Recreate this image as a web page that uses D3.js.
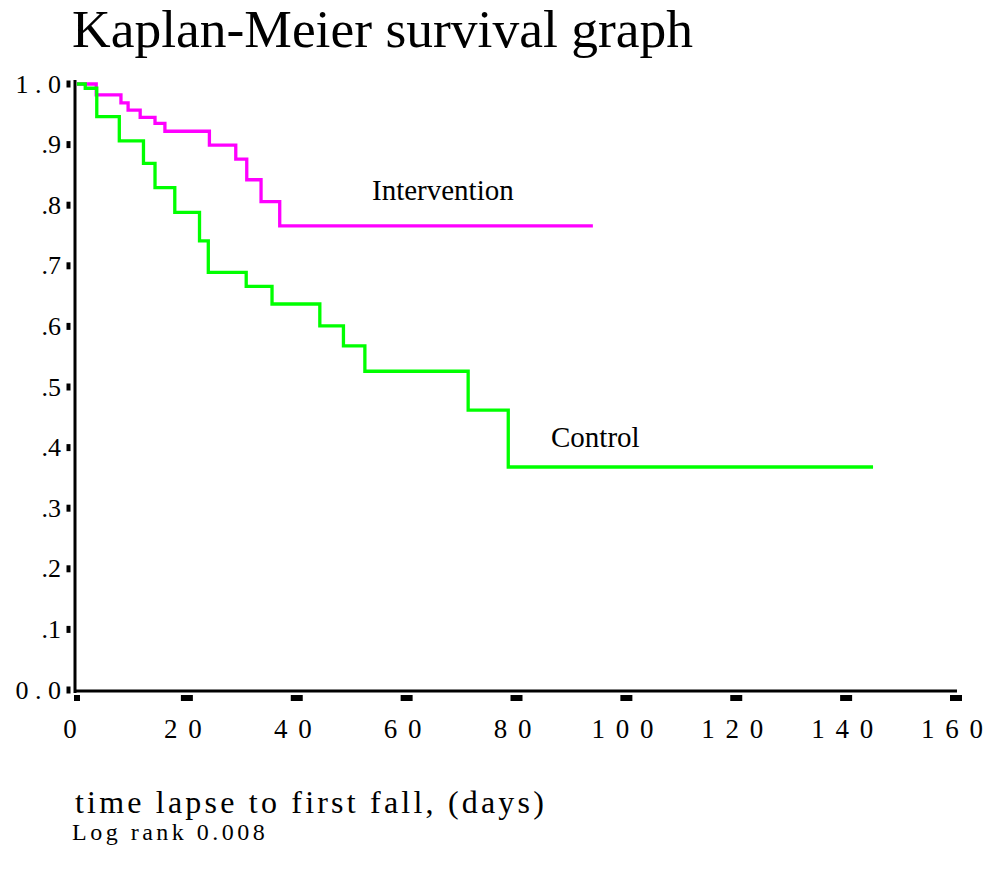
<!DOCTYPE html>
<html>
<head>
<meta charset="utf-8">
<script src="https://cdn.jsdelivr.net/npm/d3@7"></script>
<style>
  body { margin: 0; background: #fff; }
  svg { display: block; font-family: "Liberation Serif", "Times New Roman", serif; }
</style>
</head>
<body>
<div id="chart"></div>
<script>
// step points: [day, survival]
const interventionSteps = [
  [0, 1.0], [3.5, 0.982], [8, 0.969], [9.3, 0.957], [11.5, 0.945],
  [14.2, 0.935], [16, 0.922], [24.1, 0.899], [28.9, 0.876], [30.9, 0.842],
  [33.5, 0.806], [36.9, 0.766], [93.9, 0.766]
];
const controlSteps = [
  [0, 1.0], [1.5, 0.993], [3.6, 0.946], [7.7, 0.906], [12.1, 0.869],
  [14.2, 0.829], [17.8, 0.788], [22.3, 0.741], [23.9, 0.689], [30.8, 0.666],
  [35.5, 0.637], [44.2, 0.601], [48.5, 0.568], [52.4, 0.526], [71.2, 0.462],
  [78.5, 0.368], [144.9, 0.368]
];
const xTicks = [0, 20, 40, 60, 80, 100, 120, 140, 160];
const xTickLabels = ["0", "2 0", "4 0", "6 0", "8 0", "1 0 0", "1 2 0", "1 4 0", "1 6 0"];
const yTicks = [0, 0.1, 0.2, 0.3, 0.4, 0.5, 0.6, 0.7, 0.8, 0.9, 1.0];
const yTickLabels = ["0 . 0", ".1", ".2", ".3", ".4", ".5", ".6", ".7", ".8", ".9", "1 . 0"];

const w = 996, h = 875;
const svg = d3.select("#chart").append("svg").attr("width", w).attr("height", h);

const x = d3.scaleLinear().domain([0, 160]).range([77, 956]);
const y = d3.scaleLinear().domain([0, 1]).range([690, 84]);

svg.append("text")
  .attr("x", 72).attr("y", 47)
  .attr("font-size", 53.5)
  .text("Kaplan-Meier survival graph");

// axis lines
svg.append("line")
  .attr("x1", 75).attr("x2", 75)
  .attr("y1", 80).attr("y2", 693)
  .attr("stroke", "#000").attr("stroke-width", 3);
svg.append("line")
  .attr("x1", 74).attr("x2", 957)
  .attr("y1", 691).attr("y2", 691)
  .attr("stroke", "#000").attr("stroke-width", 3);

// y ticks: short dashes a little left of the axis
svg.selectAll(".ytick")
  .data(yTicks)
  .enter()
  .append("rect")
  .attr("class", "ytick")
  .attr("x", 66.5).attr("width", 4)
  .attr("y", function (d) { return y(d) - 3.5; })
  .attr("height", 7)
  .attr("fill", "#000");

svg.selectAll(".ylab")
  .data(yTicks)
  .enter()
  .append("text")
  .attr("class", "ylab")
  .attr("x", 61)
  .attr("y", function (d) { return y(d) + 8.5; })
  .attr("text-anchor", "end")
  .attr("font-size", 26)
  .text(function (d, i) { return yTickLabels[i]; });

// x ticks: small blocks under the axis
svg.selectAll(".xtick")
  .data(xTicks)
  .enter()
  .append("rect")
  .attr("class", "xtick")
  .attr("x", function (d) { return d === 0 ? x(d) - 3 : x(d) - 6; })
  .attr("width", function (d) { return d === 0 ? 6 : 12; })
  .attr("y", 695).attr("height", 6)
  .attr("fill", "#000");

svg.selectAll(".xlab")
  .data(xTicks)
  .enter()
  .append("text")
  .attr("class", "xlab")
  .attr("x", function (d) { return d === 0 ? x(d) - 6 : x(d) - 3; })
  .attr("y", 738)
  .attr("text-anchor", "middle")
  .attr("font-size", 27)
  .attr("letter-spacing", 2)
  .text(function (d, i) { return xTickLabels[i]; });

const line = d3.line()
  .x(function (d) { return x(d[0]); })
  .y(function (d) { return y(d[1]); })
  .curve(d3.curveStepAfter);

svg.append("path")
  .datum(interventionSteps)
  .attr("fill", "none")
  .attr("stroke", "#ff00ff")
  .attr("stroke-width", 3.3)
  .attr("d", line);

svg.append("path")
  .datum(controlSteps)
  .attr("fill", "none")
  .attr("stroke", "#00ff00")
  .attr("stroke-width", 3.3)
  .attr("d", line);

svg.append("text")
  .attr("x", 372).attr("y", 200)
  .attr("font-size", 29)
  .text("Intervention");

svg.append("text")
  .attr("x", 551).attr("y", 447)
  .attr("font-size", 29)
  .text("Control");

svg.append("text")
  .attr("x", 75).attr("y", 813)
  .attr("font-size", 32)
  .attr("letter-spacing", 3.2)
  .text("time lapse to first fall, (days)");

svg.append("text")
  .attr("x", 72).attr("y", 840)
  .attr("font-size", 24)
  .attr("letter-spacing", 3.5)
  .text("Log rank 0.008");
</script>
</body>
</html>
